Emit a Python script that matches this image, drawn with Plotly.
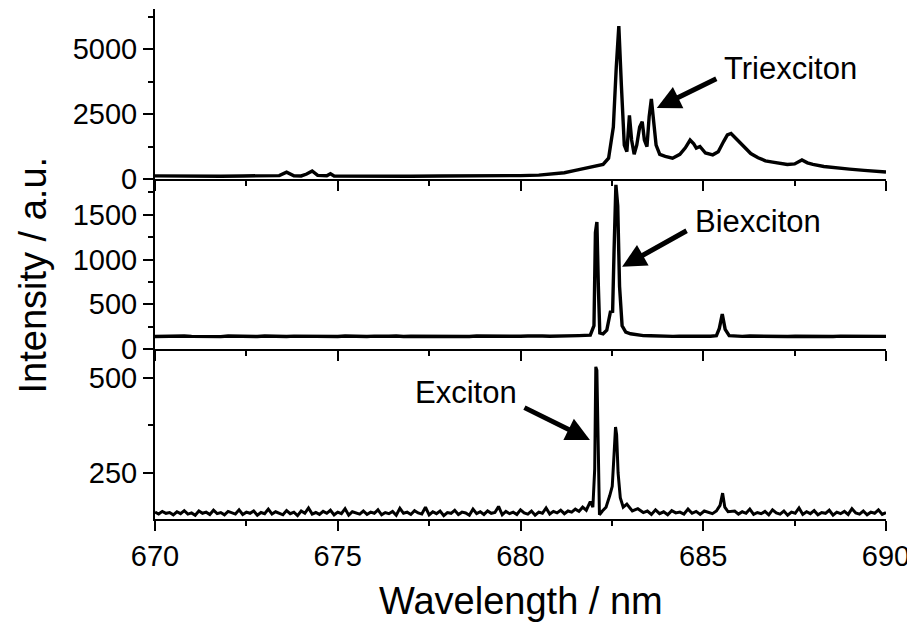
import plotly.graph_objects as go
from plotly.subplots import make_subplots

# ---------------- data ----------------
# Top panel (Triexciton spectrum)
top_wl = [670.0, 670.6, 671.2, 671.8, 672.4, 673.0, 673.4, 673.6, 673.8, 674.0, 674.15, 674.3, 674.45,
          674.7, 674.8, 674.9, 675.5, 676.2, 677.0, 677.8, 678.6, 679.4, 680.0, 680.5, 680.9,
          681.2, 681.5, 681.8,
          682.06, 682.26, 682.41, 682.54, 682.62, 682.69, 682.76, 682.84, 682.91, 682.98, 683.04,
          683.11, 683.18, 683.26, 683.33, 683.39, 683.46, 683.52, 683.58, 683.64, 683.71, 683.81,
          683.96, 684.16, 684.36, 684.51, 684.64, 684.74, 684.81, 684.91, 685.06, 685.26, 685.41,
          685.56, 685.66, 685.76, 685.86, 686.01, 686.16,
          686.3, 686.5, 686.7, 686.9, 687.1, 687.3, 687.5, 687.7, 687.85, 688.0, 688.3, 688.6,
          689.0, 689.4, 689.7, 690.0]
top_int = [120, 110, 125, 105, 118, 112, 130, 260, 125, 118, 190, 310, 140,
           125, 200, 118, 110, 122, 108, 118, 112, 120, 130, 150, 190,
           240, 330, 420,
           520, 560, 800, 2000, 4300, 5880, 3600, 1300, 1050, 2450, 1500,
           950, 1300, 2000, 2200, 1500, 1250, 2400, 3080, 2300, 1300, 950,
           870, 800, 950, 1200, 1500, 1350, 1190, 1250, 1000, 930, 1050,
           1450, 1700, 1750, 1600, 1420, 1150,
           980, 820, 700, 650, 600, 560, 580, 730, 620, 560, 480, 430,
           380, 330, 300, 270]

# Middle panel (Biexciton spectrum)
mid_base_a = [140, 143, 139, 142, 145, 141, 139, 144, 142, 138, 145, 142, 140, 143, 139, 145,
              141, 143, 139, 144, 142, 146, 140, 142, 144, 139, 145, 142, 143, 140, 144, 141,
              142, 145, 139, 143, 142, 140, 145, 142, 146, 141, 143, 139, 145, 143, 142, 144,
              140, 143, 142, 146, 141, 145, 143, 147, 145, 146, 150]
mid_peak_wl = [681.91, 682.01, 682.05, 682.09, 682.13, 682.17, 682.26, 682.36, 682.46, 682.52,
               682.56, 682.61, 682.66, 682.71, 682.78, 682.88, 683.01, 683.16, 683.36, 683.56]
mid_peak_int = [155, 260, 1300, 1420, 700, 180, 170, 210, 415, 420,
                1100, 1835, 1600, 700, 260, 190, 170, 160, 150, 148]
mid_base_b = [146, 143, 146, 141, 144, 143, 146, 142, 145, 143]
mid_small_wl = [685.36, 685.44, 685.52, 685.6, 685.71]
mid_small_int = [150, 230, 390, 220, 150]
mid_base_c = [144, 141, 145, 143, 140, 144, 142, 139, 143, 141, 145, 140, 143, 139, 144,
              142, 140, 143, 139, 142, 141]

# Bottom panel (Exciton spectrum)
bot_base_a = [147, 142, 149, 144, 146, 140, 148, 143, 151, 142, 145, 139, 150, 144, 147, 141,
              152, 143, 146, 140, 149, 145, 142, 153, 141, 147, 144, 150, 139, 146, 143, 155,
              142, 148, 145, 140, 151, 143, 147, 138, 150, 144, 158, 142, 146, 141, 149, 144,
              152, 140, 147, 143, 156, 139, 148, 145, 142, 150, 141, 147, 144, 153, 140, 146,
              143, 149, 139, 157, 144, 147, 141, 151, 145, 142, 160, 140, 148, 143, 150, 138,
              146, 144, 152, 141, 147, 145, 139, 155, 143, 148, 141, 150, 144, 146, 162, 140,
              149, 143, 147, 141, 153, 145, 142, 150, 139, 147, 144, 158, 142, 149, 145, 152,
              143, 150, 147, 155, 149, 160, 152]
bot_peak_wl = [681.91, 681.98, 682.03, 682.06, 682.09, 682.12, 682.16, 682.24, 682.34, 682.44,
               682.51, 682.56, 682.6, 682.63, 682.67, 682.73, 682.81, 682.91, 683.06, 683.21]
bot_peak_int = [175, 160, 260, 529, 520, 300, 140, 150, 160, 190,
                215, 300, 371, 350, 250, 185, 160, 168, 150, 156]
bot_base_b = [146, 150, 141, 153, 143, 148, 140, 151, 145, 147, 142, 155, 144, 149, 141,
              150, 146, 143]
bot_small_wl = [685.36, 685.46, 685.53, 685.59, 685.68]
bot_small_int = [150, 165, 197, 160, 148]
bot_base_c = [150, 142, 148, 144, 155, 141, 146, 143, 149, 140, 153, 145, 142, 150, 139,
              147, 144, 158, 141, 148, 143, 151, 140, 146, 144, 152, 139, 147, 143, 149,
              141, 156, 145, 142, 150, 140, 147, 144, 153, 141, 146]

x_ticks = [670, 675, 680, 685, 690]


def spread(start, stop, vals):
    """Wavelength sample positions for a run of baseline readings from start to stop."""
    n = len(vals) - 1
    return [round(start + (stop - start) * i / n, 3) for i in range(len(vals))]


mid_wl = (spread(670.0, 681.6, mid_base_a) + mid_peak_wl + spread(683.66, 685.2, mid_base_b)
          + mid_small_wl + spread(685.86, 690.0, mid_base_c))
mid_int = mid_base_a + mid_peak_int + mid_base_b + mid_small_int + mid_base_c

bot_wl = (spread(670.0, 681.8, bot_base_a) + bot_peak_wl + spread(683.36, 685.25, bot_base_b)
          + bot_small_wl + spread(685.86, 690.0, bot_base_c))
bot_int = bot_base_a + bot_peak_int + bot_base_b + bot_small_int + bot_base_c

# ---------------- figure ----------------
FONT = "Arial, Liberation Sans, sans-serif"
PLOT_L, PLOT_W, PLOT_B, PLOT_H = 155, 731, 519, 510   # plot area in page pixels (for label placement)

fig = make_subplots(rows=3, cols=1, shared_xaxes=True, vertical_spacing=0)

line = dict(color="black", width=3.4)
fig.add_trace(go.Scatter(x=top_wl, y=top_int, mode="lines", line=line, showlegend=False), row=1, col=1)
fig.add_trace(go.Scatter(x=mid_wl, y=mid_int, mode="lines", line=line, showlegend=False), row=2, col=1)
fig.add_trace(go.Scatter(x=bot_wl, y=bot_int, mode="lines", line=dict(color="black", width=3),
                         showlegend=False), row=3, col=1)

axis_common = dict(showline=True, linewidth=2, linecolor="black", ticks="outside",
                   ticklen=10, tickwidth=2, tickcolor="black", showgrid=False, zeroline=False,
                   tickfont=dict(family=FONT, size=29, color="black"))

fig.update_xaxes(range=[670, 690], tickvals=x_ticks, ticklabeloverflow="allow",
                 minor=dict(dtick=2.5, tick0=670, ticks="outside", ticklen=5, tickwidth=2,
                            tickcolor="black", showgrid=False),
                 **axis_common)
fig.update_yaxes(**axis_common)

fig.update_yaxes(range=[0, 6540], dtick=2500, tick0=0,
                 minor=dict(dtick=1250, ticks="outside", ticklen=5, tickwidth=2, tickcolor="black"),
                 row=1, col=1)
fig.update_yaxes(range=[0, 1900], dtick=500, tick0=0,
                 minor=dict(dtick=250, ticks="outside", ticklen=5, tickwidth=2, tickcolor="black"),
                 row=2, col=1)
fig.update_yaxes(range=[129, 576], dtick=250, tick0=0,
                 minor=dict(dtick=125, tick0=0, ticks="outside", ticklen=5, tickwidth=2,
                            tickcolor="black"),
                 row=3, col=1)


def px(x):
    return (x - PLOT_L) / PLOT_W


def py(y):
    return (PLOT_B - y) / PLOT_H


ann_font = dict(family=FONT, size=31, color="black")
arrow = dict(showarrow=True, arrowhead=2, arrowsize=0.95, arrowwidth=5, arrowcolor="black",
             axref="pixel", ayref="pixel")

annotations = [
    # axis titles
    dict(text="Wavelength / nm", xref="paper", yref="paper", x=0.5, y=py(601),
         xanchor="center", yanchor="middle", showarrow=False,
         font=dict(family=FONT, size=38, color="black")),
    dict(text="Intensity / a.u.", xref="paper", yref="paper", x=px(33), y=py(275.5),
         xanchor="center", yanchor="middle", textangle=-90, showarrow=False,
         font=dict(family=FONT, size=38, color="black")),
    # labels
    dict(text="Triexciton", xref="paper", yref="paper", x=px(722), y=py(68),
         xanchor="left", yanchor="middle", showarrow=False, font=ann_font),
    dict(text="Biexciton", xref="paper", yref="paper", x=px(693), y=py(222),
         xanchor="left", yanchor="middle", showarrow=False, font=ann_font),
    dict(text="Exciton", xref="paper", yref="paper", x=px(519), y=py(392),
         xanchor="right", yanchor="middle", showarrow=False, font=ann_font),
    # arrows
    dict(text="", xref="x", yref="y", x=683.73, y=2730, ax=61, ay=-30, **arrow),
    dict(text="", xref="x2", yref="y2", x=682.78, y=918, ax=66, ay=-37, **arrow),
    dict(text="", xref="x3", yref="y3", x=681.90, y=337, ax=-67, ay=-33, **arrow),
]

# The page body adds an 8px offset; margins are shifted so the plot area lands where
# the reference has it, and the height keeps the page from overflowing vertically.
fig.update_layout(width=907, height=614, margin=dict(l=147, r=29, t=1, b=103),
                  plot_bgcolor="white", paper_bgcolor="white",
                  font=dict(family=FONT, color="black"), annotations=annotations)

fig.write_html("out.html")
